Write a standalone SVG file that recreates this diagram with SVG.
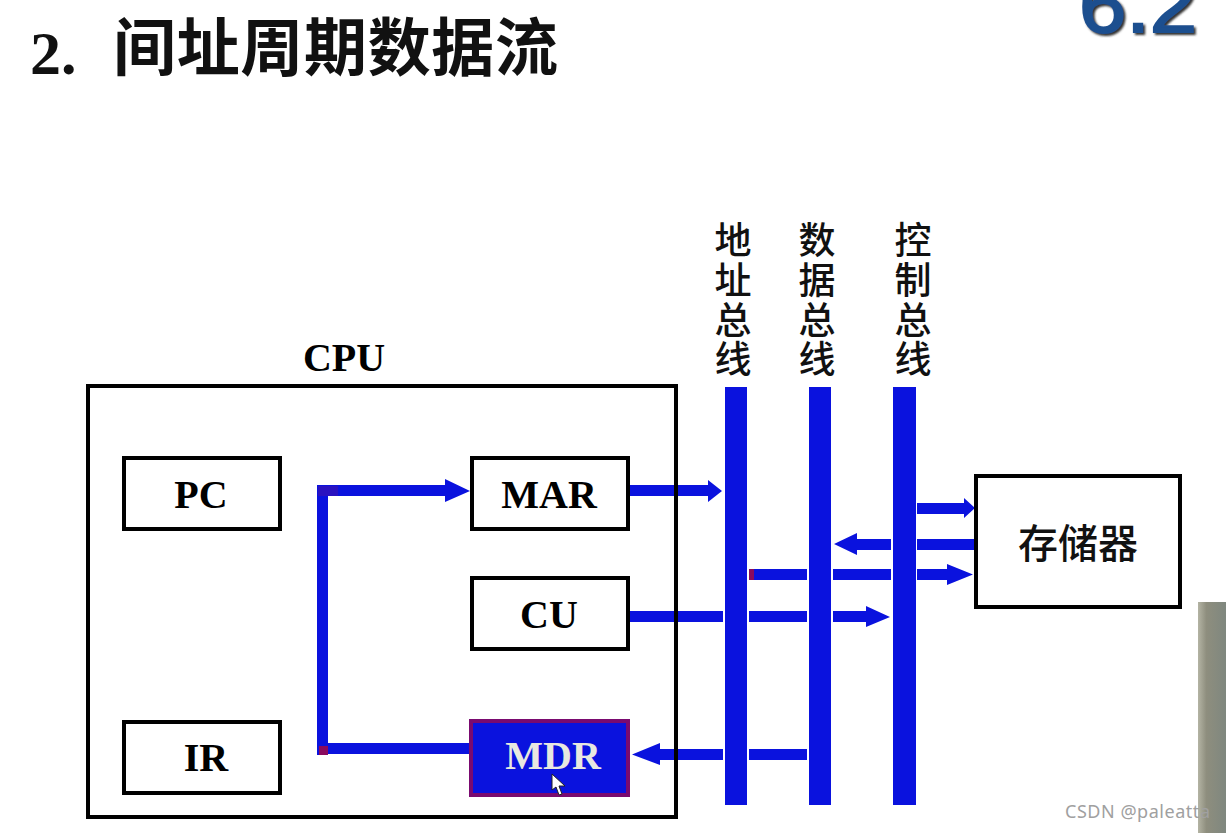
<svg xmlns="http://www.w3.org/2000/svg" width="1226" height="833" viewBox="0 0 1226 833">
<style>
.box{fill:#fff;stroke:#000;stroke-width:4}
.blue{fill:#0a12de}
.pur{fill:#8a0a5e}
.lat{font-family:"Liberation Serif",serif;font-weight:700;font-size:40px;text-anchor:middle;fill:#000}
.cjk{font-family:"Noto Sans CJK SC",sans-serif;font-weight:500;font-size:37px;text-anchor:middle;fill:#111}
</style>
<defs>
<linearGradient id="strip" x1="0" x2="1" y1="0" y2="0"><stop offset="0" stop-color="#b4b4a4"/><stop offset="0.3" stop-color="#8e8e7e"/><stop offset="1" stop-color="#7f877f"/></linearGradient>
<filter id="sh" x="-10%" y="-10%" width="120%" height="120%"><feDropShadow dx="2" dy="2" stdDeviation="1.2" flood-color="#333"/></filter>
</defs>
<rect width="1226" height="833" fill="#fff"/>
<rect x="1198" y="602" width="28" height="231" fill="url(#strip)"/>
<g id="title">
<text x="30" y="74" font-family="Liberation Serif,serif" font-weight="700" font-size="62" fill="#111">2.</text>
<text x="113" y="70" font-family="Noto Sans CJK SC,sans-serif" font-weight="700" font-size="63" fill="#111" textLength="445" lengthAdjust="spacing">间址周期数据流</text>
</g>
<text id="section" x="1079" y="32" font-family="Liberation Sans,sans-serif" font-size="78" fill="#1f4f8f" stroke="#1f4f8f" stroke-width="2" filter="url(#sh)" textLength="118" lengthAdjust="spacingAndGlyphs">6.2</text>
<g id="connectors">
<rect class="blue" x="317" y="485" width="11" height="270"/>
<path class="blue" d="M317 485H445V479L470 491L445 502V496H317Z"/>
<rect x="318" y="486" width="20" height="10" fill="#2a12c0"/>
<rect class="blue" x="328" y="743" width="143" height="11"/>
<rect class="pur" x="319" y="746" width="9" height="9"/>
<path class="blue" d="M629 485H708V480L722 491L708 502V496H629Z"/>
<path class="blue" d="M917 503H964V498L975 508L964 518V514H917Z"/>
<path class="blue" d="M975 539H917V550H975Z"/>
<path class="blue" d="M891 539H857V533L834 544L857 555V550H891Z"/>
<rect class="blue" x="749" y="569" width="58" height="11"/>
<rect class="pur" x="749" y="569" width="5" height="11"/>
<rect class="blue" x="833" y="569" width="58" height="11"/>
<path class="blue" d="M917 569H947V564L973 574.500L947 585V580H917Z"/>
<rect class="blue" x="629" y="611" width="94" height="11"/>
<rect class="blue" x="749" y="611" width="58" height="11"/>
<path class="blue" d="M833 611H866V606L890 617L866 627V622H833Z"/>
<rect class="blue" x="749" y="749" width="58" height="11"/>
<path class="blue" d="M723 749H660V743L632 754.500L660 765V760H723Z"/>
<rect class="blue" x="725" y="387" width="22" height="418"/>
<rect class="blue" x="809" y="387" width="22" height="418"/>
<rect class="blue" x="893" y="387" width="23" height="418"/>
</g>
<g id="cpu">
<rect x="88" y="386" width="588" height="431" fill="none" stroke="#000" stroke-width="4"/>
<text class="lat" x="344" y="371">CPU</text>
</g>
<g id="pc"><rect class="box" x="124" y="458" width="156" height="71"/><text class="lat" x="201" y="508">PC</text></g>
<g id="mar"><rect class="box" x="472" y="458" width="156" height="71"/><text class="lat" x="549" y="508">MAR</text></g>
<g id="cu"><rect class="box" x="472" y="578" width="156" height="71"/><text class="lat" x="549" y="628">CU</text></g>
<g id="ir"><rect class="box" x="124" y="722" width="156" height="71"/><text class="lat" x="206" y="771">IR</text></g>
<g id="mdr"><rect x="471" y="721" width="157" height="74" fill="#0a12de" stroke="#7a0a70" stroke-width="4"/><text class="lat" x="553" y="769" style="fill:#e8e8e0">MDR</text></g>
<g id="memory"><rect class="box" x="976" y="476" width="204" height="131"/><text class="cjk" x="1078" y="558" style="font-size:40px">存储器</text></g>
<g id="bus-address"><text class="cjk"><tspan x="733" y="254">地</tspan><tspan x="733" y="294">址</tspan><tspan x="733" y="334">总</tspan><tspan x="733" y="373">线</tspan></text></g>
<g id="bus-data"><text class="cjk"><tspan x="817" y="254">数</tspan><tspan x="817" y="294">据</tspan><tspan x="817" y="334">总</tspan><tspan x="817" y="373">线</tspan></text></g>
<g id="bus-control"><text class="cjk"><tspan x="913" y="254">控</tspan><tspan x="913" y="294">制</tspan><tspan x="913" y="334">总</tspan><tspan x="913" y="373">线</tspan></text></g>
<path id="cursor" d="M552 774V790L556 787L559 795L562 794L559 786L565 786Z" fill="#fff" stroke="#222" stroke-width="1"/>
<text id="watermark" x="1065" y="818" font-family="Noto Sans,sans-serif" font-size="18" fill="#a0a0a0" textLength="145">CSDN @paleatta</text>
</svg>
